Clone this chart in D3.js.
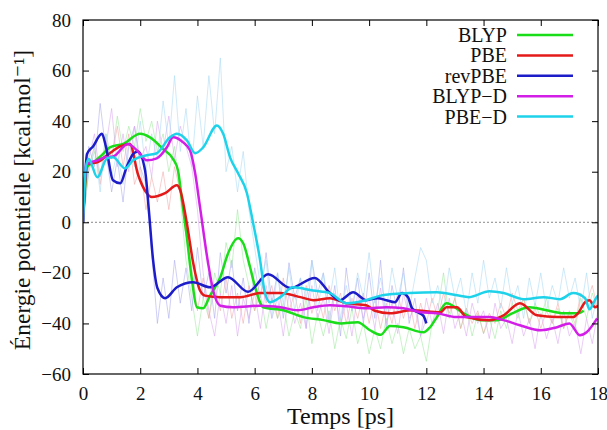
<!DOCTYPE html>
<html>
<head>
  <meta charset="utf-8">
  <script src="https://d3js.org/d3.v7.min.js"></script>
  <style>
    body { margin: 0; background: #fff; }
  </style>
</head>
<body>
  <div id="viz"></div>

  <script>
    const serif = "'Liberation Serif', 'Times New Roman', Times, 'DejaVu Serif', serif";

    // tick labels
    const xTicks = [0, 2, 4, 6, 8, 10, 12, 14, 16, 18];
    const yTicks = [-60, -40, -20, 0, 20, 40, 60, 80];

    const seriesNames = ["BLYP", "PBE", "revPBE", "BLYP-D", "PBE-D"];
    const seriesColors = ["#19dd19", "#e41a1a", "#1c1cc8", "#d21ee6", "#1ed2ea"];
    const rawColors = ["#9be89b", "#f2a6a6", "#a8a8ee", "#dba6f0", "#a6d8f4"];

    // smoothed curves, [time ps, energy]
    const blyp = [[0,0],[0.15,22],[0.4,24],[0.7,27],[0.94,29.6],[1.4,31],[2.0,35],[2.34,33.6],[2.8,29],[3.15,25],[3.32,20.5],[3.46,8.7],[3.63,-6],[3.81,-23],[3.98,-33.6],[4.2,-34],[4.44,-29],[4.8,-21.7],[5.07,-12.3],[5.42,-6.3],[5.6,-8.3],[5.84,-17.8],[6.0,-25],[6.3,-33.6],[7.0,-34.8],[7.7,-37.5],[8.4,-38.7],[9.0,-40],[9.6,-39.5],[10.03,-42.7],[10.4,-44.5],[10.73,-41],[11.2,-41.5],[11.9,-43.5],[12.13,-41.5],[12.37,-37.5],[12.7,-32],[13.3,-36],[13.9,-38.7],[14.5,-38.7],[15.0,-36],[15.6,-33.6],[16.2,-34.8],[16.8,-36],[17.3,-36],[17.5,-35]];
    const pbe = [[0,0],[0.15,23],[0.5,23.7],[0.9,27],[1.3,30],[1.64,31],[1.92,19],[2.23,11.5],[2.4,10],[2.87,11.5],[3.28,14.6],[3.4,12.6],[3.63,-0.4],[3.85,-16],[4.09,-27],[4.26,-29],[4.8,-29.6],[5.5,-29.6],[6.2,-28],[6.9,-28],[7.6,-29.6],[8.05,-30.8],[8.63,-30],[9.2,-32],[9.9,-32.8],[10.2,-35],[10.73,-36],[11.5,-34.8],[12.5,-35.6],[12.7,-33.6],[13.07,-33.6],[13.4,-37.5],[14.2,-38.7],[14.7,-36.8],[15.27,-32],[15.87,-36.8],[16.57,-37.5],[17.13,-37.5],[17.3,-36],[17.55,-31.6],[17.7,-30.8],[17.9,-33.6],[18,-33]];
    const revpbe = [[0,0],[0.14,27],[0.35,30],[0.66,35],[0.8,30],[1.05,16.6],[1.3,15.4],[1.53,22],[1.75,27],[1.92,28],[2.17,20.5],[2.3,5],[2.45,-15],[2.6,-26],[2.87,-30],[3.28,-25.7],[3.85,-23.7],[4.44,-25.7],[5.07,-21.7],[5.77,-27.5],[6.47,-20.6],[7.24,-26],[8.1,-22],[8.63,-28],[8.98,-30.8],[9.44,-27.7],[9.9,-30.8],[10.3,-30],[10.6,-30.8],[10.9,-31.6],[11.15,-28],[11.36,-29.6],[11.5,-34],[11.7,-35.6],[11.9,-37],[12.0,-40]];
    const blypd = [[0,0],[0.12,23],[0.5,24.5],[0.77,25.7],[1.05,26],[1.57,31],[1.88,28.5],[2.23,24.5],[2.58,25.3],[2.93,29.6],[3.15,33.6],[3.5,31.6],[3.74,28.5],[3.92,19.4],[4.09,6],[4.37,-16],[4.55,-27],[4.8,-33],[5.24,-33.6],[6.2,-33],[6.9,-33.6],[7.5,-34.8],[8.05,-33.6],[8.63,-32.8],[9.2,-33.2],[9.9,-34],[10.6,-33.6],[11.2,-34],[11.8,-35.6],[12.37,-36],[13.07,-37.5],[13.77,-37.5],[14.2,-37.5],[14.7,-38.7],[15.27,-40.7],[16.0,-42.7],[16.57,-41.5],[17.0,-40],[17.37,-44.7],[17.6,-43.5],[17.97,-38]];
    const pbed = [[0,0],[0.1,21.7],[0.2,25],[0.5,17.8],[0.84,25.3],[1.05,25.7],[1.47,21.3],[1.75,24.5],[2.23,26.5],[2.58,27.3],[3.04,33.6],[3.28,35],[3.63,32.4],[3.92,27.3],[4.2,29.6],[4.68,38.3],[4.9,35],[5.14,25.7],[5.42,19.4],[5.73,11.5],[5.94,0],[6.19,-15],[6.36,-28],[6.54,-31.6],[6.9,-29.6],[7.34,-25.7],[8.04,-27],[8.63,-28],[9.2,-32],[9.9,-30.8],[10.4,-29],[10.73,-28.5],[11.4,-28],[12.37,-27.7],[13.07,-28.9],[13.5,-29.6],[14.2,-27.3],[14.7,-28],[15.4,-30.4],[16.1,-29.6],[16.67,-30.4],[17.13,-28],[17.55,-30],[17.7,-34.4],[17.93,-30],[18,-29]];

    // raw (unsmoothed) energies, one value every 0.2 ps from t = 0
    const rawStep = 0.2;
    const blypRaw = [0,20,28,18,35,25,42,28,38,30,45,32,40,28,35,20,30,10,-15,-30,-45,-30,-38,-20,-28,-8,-18,5,-15,-25,-35,-28,-42,-30,-38,-32,-45,-35,-42,-30,-48,-36,-45,-35,-50,-38,-46,-34,-48,-40,-52,-42,-50,-38,-48,-40,-52,-42,-50,-45,-55,-40,-35,-20,-38,-30,-42,-34,-45,-36,-44,-38,-46,-35,-42,-32,-38,-30,-40,-32,-38,-30,-40,-34,-42,-36,-42,-30,-38,-28,-35];
    const pbeRaw = [0,22,30,15,32,25,38,22,35,15,22,5,18,8,20,5,22,12,-5,-18,-35,-22,-38,-25,-35,-22,-38,-28,-40,-25,-35,-22,-32,-25,-38,-22,-35,-28,-40,-25,-36,-28,-38,-25,-35,-28,-40,-30,-38,-28,-40,-30,-42,-32,-40,-28,-38,-30,-42,-32,-40,-30,-38,-28,-36,-30,-42,-34,-40,-35,-44,-36,-40,-32,-38,-28,-35,-30,-40,-34,-42,-35,-40,-32,-42,-35,-40,-28,-32,-25,-35];
    const revpbeRaw = [0,30,22,47,28,12,25,8,30,38,22,15,-12,-40,-22,-38,-15,-32,-18,-35,-10,-30,-20,-38,-12,-28,-15,-35,-22,-40,-18,-30,-12,-32,-20,-38,-16,-30,-22,-42,-15,-28,-20,-40,-25,-45,-18,-35,-22,-40,-20,-38,-15,-42,-25,-36,-18,-40,-30,-45,-38];
    const blypdRaw = [0,25,35,18,30,45,22,35,20,38,25,30,18,40,28,42,25,38,30,22,5,-20,-35,-45,-28,-40,-25,-45,-30,-38,-28,-42,-25,-38,-30,-45,-28,-40,-32,-42,-25,-38,-30,-44,-28,-40,-32,-45,-28,-38,-30,-42,-26,-40,-32,-44,-28,-38,-34,-45,-30,-40,-32,-44,-30,-42,-35,-45,-32,-40,-35,-46,-32,-42,-38,-48,-35,-45,-38,-50,-36,-46,-38,-48,-35,-45,-40,-52,-38,-48,-35];
    const pbedRaw = [0,20,30,12,35,18,28,15,32,22,40,20,35,25,48,30,58,28,45,22,50,30,58,35,65,20,30,12,28,5,-10,-25,-15,-38,-20,-32,-18,-35,-22,-30,-15,-35,-20,-32,-18,-38,-25,-35,-20,-30,-12,-32,-22,-35,-18,-30,-20,-35,-22,-10,-15,-32,-25,-35,-18,-30,-22,-36,-20,-32,-15,-30,-22,-34,-18,-32,-25,-38,-22,-33,-20,-35,-25,-32,-18,-30,-22,-35,-20,-38,-28];

    const smooth = [blyp, pbe, revpbe, blypd, pbed];
    const raw = [blypRaw, pbeRaw, revpbeRaw, blypdRaw, pbedRaw];

    const margin = { top: 20, right: 9, bottom: 56, left: 83 },
          width = 607 - margin.left - margin.right,
          height = 430 - margin.top - margin.bottom;

    const svg = d3.select("#viz")
      .append("svg")
        .attr("width", 607)
        .attr("height", 430)
      .append("g")
        .attr("transform", `translate(${margin.left},${margin.top})`);

    const x = d3.scaleLinear().domain([0, 18]).range([0, width]);
    const y = d3.scaleLinear().domain([-60, 80]).range([height, 0]);

    svg.append("clipPath").attr("id", "clip")
      .append("rect").attr("width", width).attr("height", height);

    // zero line
    svg.append("line")
      .attr("x1", 0).attr("x2", width)
      .attr("y1", y(0)).attr("y2", y(0))
      .attr("stroke", "#888")
      .attr("stroke-width", 1)
      .attr("stroke-dasharray", "2,2");

    const plot = svg.append("g").attr("clip-path", "url(#clip)");

    // raw traces
    const rawLine = d3.line()
      .x((d, i) => x(i * rawStep))
      .y(d => y(d));
    raw.forEach((r, k) => {
      plot.append("path")
        .attr("d", rawLine(r))
        .attr("fill", "none")
        .attr("stroke", rawColors[k])
        .attr("stroke-opacity", 0.55)
        .attr("stroke-width", 1);
    });

    // smoothed curves
    const line = d3.line()
      .x(d => x(d[0]))
      .y(d => y(d[1]))
      .curve(d3.curveMonotoneX);
    smooth.forEach((s, k) => {
      plot.append("path")
        .attr("d", line(s))
        .attr("fill", "none")
        .attr("stroke", seriesColors[k])
        .attr("stroke-width", 2.5)
        .attr("stroke-linejoin", "round");
    });

    // frame + inward ticks on all four sides
    svg.append("rect")
      .attr("width", width).attr("height", height)
      .attr("fill", "none").attr("stroke", "#000").attr("stroke-width", 1.2);

    const plain = g => g.call(g => g.select(".domain").remove())
      .selectAll("text")
        .style("font-family", serif)
        .style("font-size", "19px")
        .attr("fill", "#111");

    svg.append("g")
      .attr("transform", `translate(0,${height})`)
      .call(d3.axisBottom(x).tickValues(xTicks).tickSize(-6).tickPadding(13).tickFormat(d3.format("d")))
      .call(plain);
    svg.append("g")
      .call(d3.axisTop(x).tickValues(xTicks).tickSize(-6).tickFormat(""))
      .call(plain);
    svg.append("g")
      .call(d3.axisLeft(y).tickValues(yTicks).tickSize(-6).tickPadding(12).tickFormat(d3.format("d")))
      .call(plain);
    svg.append("g")
      .attr("transform", `translate(${width},0)`)
      .call(d3.axisRight(y).tickValues(yTicks).tickSize(-6).tickFormat(""))
      .call(plain);

    // axis titles
    svg.append("text")
      .style("font-family", serif)
      .style("font-size", "24px")
      .attr("fill", "#111")
      .attr("text-anchor", "middle")
      .attr("x", width / 2)
      .attr("y", height + 50)
      .text("Temps [ps]");

    svg.append("text")
      .style("font-family", serif)
      .style("font-size", "23.5px")
      .attr("fill", "#111")
      .attr("text-anchor", "middle")
      .attr("transform", "rotate(-90)")
      .attr("x", -height / 2 - 3)
      .attr("y", -margin.left + 30)
      .text("Énergie potentielle [kcal.mol⁻¹]");

    // legend
    const legend = svg.append("g")
      .attr("transform", `translate(${width - 20}, 15)`);

    const items = legend.selectAll("g")
      .data(seriesNames)
      .enter().append("g")
      .attr("transform", (d, i) => `translate(0, ${i * 20.4})`);

    items.append("line")
      .attr("x1", -61).attr("x2", -5)
      .attr("stroke", (d, i) => seriesColors[i])
      .attr("stroke-width", 2.5);

    items.append("text")
      .style("font-family", serif)
      .style("font-size", "20px")
      .attr("fill", "#111")
      .attr("x", -71)
      .attr("dy", "0.35em")
      .attr("text-anchor", "end")
      .text(d => d.replace("-", "−"));
  </script>
</body>
</html>
